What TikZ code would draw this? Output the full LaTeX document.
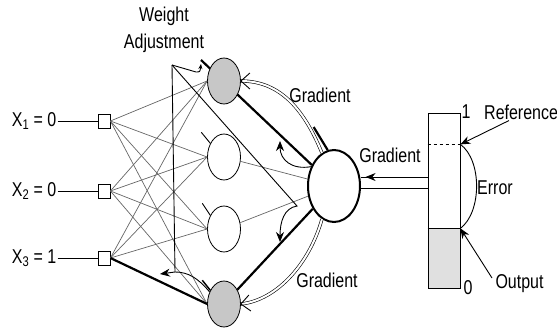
\documentclass[tikz,border=0pt]{standalone}
\usepackage{fontspec}
\setmainfont{Liberation Sans}[FakeStretch=0.8]
\usetikzlibrary{arrows.meta, backgrounds, positioning, shapes.geometric}

\tikzset{
	unit/.style={ellipse, draw, fill=white, line width=0.8pt, minimum width=33pt, minimum height=46pt, inner sep=0},
	active/.style={unit, fill=black!22},
	sensor/.style={rectangle, draw, fill=white, line width=0.8pt, minimum width=12pt, minimum height=14pt, inner sep=0},
	weight/.style={draw=black!60, line width=0.7pt},
	strong/.style={line width=2.2pt},
	leader/.style={line width=0.9pt},
	grad/.style={double, double distance=2pt, line width=0.6pt},
	head/.style={-{Stealth[length=10pt, width=8pt]}},
}

\begin{document}
\begin{tikzpicture}[x=1pt, y=-1pt, font=\fontsize{20}{27}\selectfont, node distance=40pt]
	\useasboundingbox (0,0) rectangle (557,329);

	% inputs
	\node (input_1) [sensor] at (104,121) {};
	\node (input_2) [sensor] at (104,191) {};
	\node (input_3) [sensor] at (104,258) {};
	\node (label_1) [left=of input_1, inner sep=1pt] {X\textsubscript{1} = 0};
	\node (label_2) [left=of input_2, inner sep=1pt] {X\textsubscript{2} = 0};
	\node (label_3) [left=of input_3, inner sep=1pt] {X\textsubscript{3} = 1};

	% hidden layer and output unit
	\node (hidden_1) [active] at (224,81) {};
	\node (hidden_2) [unit] at (224,157) {};
	\node (hidden_3) [unit] at (224,229) {};
	\node (hidden_4) [active] at (224,304) {};
	\node (output_unit) [unit, line width=2pt, minimum width=52pt, minimum height=72pt] at (334,186) {};

	% target bar
	\node (error_bar) [draw, line width=0.8pt, minimum width=32pt, minimum height=175pt, inner sep=0] at (444,200.5) {};
	\coordinate (ref_level) at ([yshift=144pt]error_bar.south east);
	\coordinate (out_level) at ([yshift=60pt]error_bar.south east);
	\node (top_mark) at (466,112) {1};
	\node (low_mark) at (468,288) {0};

	% labels
	\node (adjust_label) [align=center, inner sep=0] at (164,30) {Weight\\Adjustment};
	\node (grad_top) at (320,95) {Gradient};
	\node (grad_mid) at (390,155) {Gradient};
	\node (grad_low) at (327,280) {Gradient};
	\node (ref_label) [anchor=west, inner sep=1pt] at (483,112) {Reference};
	\node (error_label) at (495,188) {Error};
	\node (output_label) [anchor=west] at (492,284) {Output};

	\coordinate (h1_tip) at (201,60);
	\coordinate (adjust_pt) at (172,65);
	\coordinate (bend_pt) at (175,272);
	\coordinate (hook_pt) at (160,274);
	\coordinate (knee_pt) at (297,206);
	\coordinate (hit_low) at (280,242);
	\coordinate (hit_top) at (280,141);
	\coordinate (grad_in_a) at ([yshift=23.5pt]error_bar.west);
	\coordinate (grad_in_b) at ([yshift=12.5pt]error_bar.west);

	\begin{scope}[on background layer]
		\fill [black!12] (error_bar.south west) rectangle (out_level);
		\draw [strong] (output_unit) -- (h1_tip);
	\end{scope}

	% connections
	\foreach \i in {1,2,3} {
		\draw [leader] (label_\i) -- (input_\i);
		\foreach \j in {1,...,4}
			\draw [weight] (input_\i.east) -- (hidden_\j.west);
	}
	\draw [strong] (input_3.east) -- (hidden_4.west);
	\draw [weight] (hidden_2) -- (output_unit);
	\draw [weight] (hidden_3) -- (output_unit);
	\draw [strong] (hidden_4) -- (output_unit);

	% ticks
	\draw [strong] (output_unit.100) -- ++(-14,-23);
	\draw [leader] (hidden_2.135) -- ++(-9,-11);
	\draw [leader] (hidden_3.135) -- ++(-8,-12);
	\draw [line width=1.5pt] (hidden_4.135) -- ++(-8,-10);

	% weight adjustment
	\draw [leader, -{Stealth[length=5pt, width=4pt]}] (adjust_pt) -- (196,72) .. controls (200,72) .. (201,64);
	\draw [leader] (adjust_pt) -- (bend_pt);
	\draw [leader, head] (hidden_4.140) .. controls (198,278) and (188,272) .. (bend_pt) -- (hook_pt);
	\draw [leader, head] (adjust_pt) -- (knee_pt) .. controls (284,208) and (280,222) .. (hit_low);
	\draw [leader, head] (output_unit.140) .. controls (292,170) and (280,160) .. (hit_top);

	% gradients
	\draw [grad] (output_unit.110) .. controls (305,112) and (282,81) .. (hidden_1.east);
	\draw [leader] ([shift={(9,-8)}]hidden_1.east) -- (hidden_1.east) -- ([shift={(9,8)}]hidden_1.east);
	\draw [grad] (output_unit.250) .. controls (310,262) and (278,300) .. (hidden_4.east);
	\draw [leader] ([shift={(8,-9)}]hidden_4.east) -- (hidden_4.east) -- ([shift={(10,7)}]hidden_4.east);
	\draw [leader] (grad_in_a) -- (grad_in_a -| output_unit.east);
	\draw [leader] (grad_in_b) -- (grad_in_b -| output_unit.east);
	\draw [leader, head] (grad_in_a) -- ++(-62,0);

	% reference and output levels
	\draw [leader, dashed] (ref_level -| error_bar.west) -- (ref_level);
	\draw [leader] (out_level -| error_bar.west) -- (out_level);
	\draw [leader] (ref_level) .. controls (482,160) and (482,212) .. (out_level);
	\draw [leader, head] ([xshift=26pt]ref_label.south west) -- (ref_level);
	\draw [leader, head] ([yshift=6pt]output_label.west) -- (out_level);
\end{tikzpicture}
\end{document}
